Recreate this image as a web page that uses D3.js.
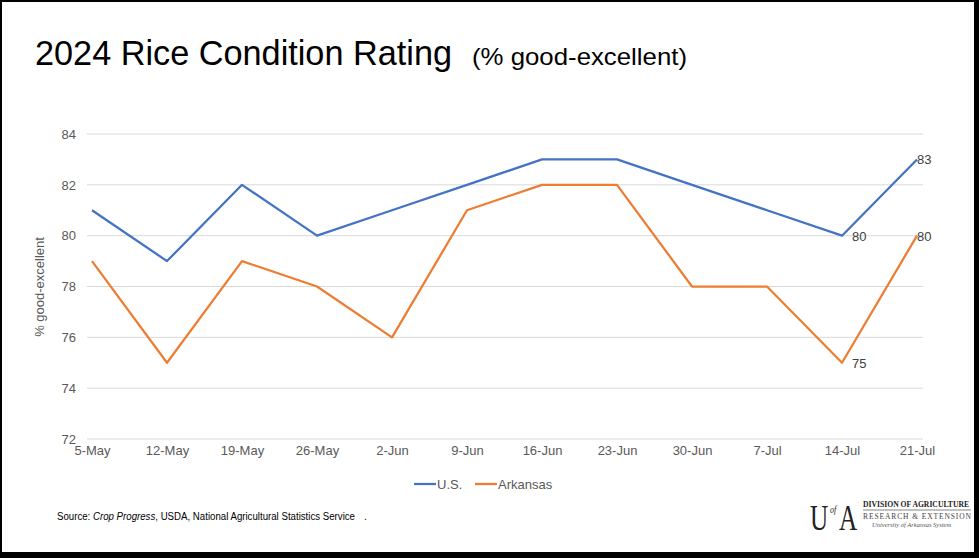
<!DOCTYPE html>
<html>
<head>
<meta charset="utf-8">
<script src="https://cdn.jsdelivr.net/npm/d3@7"></script>
<style>
  html, body { margin: 0; padding: 0; background: #fff; }
  svg { display: block; font-family: "Liberation Sans", Arial, sans-serif; }
</style>
</head>
<body>
<svg id="chart" width="979" height="558"></svg>
<script>
const categories = ["5-May","12-May","19-May","26-May","2-Jun","9-Jun","16-Jun","23-Jun","30-Jun","7-Jul","14-Jul","21-Jul"];
const usValues = [81,79,82,80,81,82,83,83,82,81,80,83];
const arkansasValues = [79,75,79,78,76,81,82,82,78,78,75,80];
const yTicks = [72,74,76,78,80,82,84];
const seriesNames = ["U.S.","Arkansas"];
const labelIndices = [10,11];

const svg = d3.select("#chart");
const W = 979, H = 558;
const SANS = "Liberation Sans, Arial, sans-serif";
const SERIF = "Liberation Serif, DejaVu Serif, serif";

// frame
svg.append("rect").attr("x",0).attr("y",0).attr("width",W).attr("height",H).attr("fill","#000");
svg.append("rect").attr("x",2).attr("y",2).attr("width",W-7).attr("height",H-8).attr("fill","#fff");

const x = d3.scalePoint().domain(categories).range([92,917]);
const y = d3.scaleLinear().domain([72,84]).range([439,134]);

// title
const title = svg.append("text").attr("x",35).attr("y",65).attr("fill","#000").style("font-family",SANS);
title.append("tspan").style("font-size","35px").attr("textLength",417).attr("lengthAdjust","spacingAndGlyphs").text("2024 Rice Condition Rating");
title.append("tspan").attr("x",472).style("font-size","24px").attr("textLength",215).attr("lengthAdjust","spacingAndGlyphs").text("(% good-excellent)");

// gridlines
svg.append("g").selectAll("line").data(yTicks).join("line")
  .attr("x1",x.range()[0]-5).attr("x2",x.range()[1]+6)
  .attr("y1",d=>y(d)).attr("y2",d=>y(d))
  .attr("stroke","#d9d9d9").attr("stroke-width",1);

// y axis
const yAxis = svg.append("g").attr("transform","translate(76,0)")
  .call(d3.axisLeft(y).tickValues(yTicks).tickSize(0).tickPadding(0));
yAxis.select(".domain").remove();
yAxis.selectAll("text").style("font-size","13px").attr("fill","#595959").style("font-family",SANS);

// x axis
const xAxis = svg.append("g").attr("transform","translate(0,446)")
  .call(d3.axisBottom(x).tickSize(0).tickPadding(0));
xAxis.select(".domain").remove();
xAxis.selectAll("text").style("font-size","13px").attr("fill","#595959").style("font-family",SANS);

// y title
svg.append("text").attr("transform","translate(44,287) rotate(-90)")
  .attr("text-anchor","middle").style("font-size","13px").attr("fill","#595959").style("font-family",SANS)
  .text("% good-excellent");

const colors = ["#4472c4","#ed7d31"];
const series = [usValues, arkansasValues];
const line = d3.line().x((d,i)=>x(categories[i])).y(d=>y(d));

series.forEach((vals,si)=>{
  svg.append("path").datum(vals).attr("d",line)
    .attr("fill","none").attr("stroke",colors[si]).attr("stroke-width",2.25)
    .attr("stroke-linejoin","round");
  svg.append("g").selectAll("text").data(labelIndices).join("text")
    .attr("x",i=>x(categories[i])+ (i===categories.length-1 ? 0 : 10))
    .attr("y",i=>y(vals[i])+5)
    .style("font-size","13px").style("font-family",SANS).attr("fill","#404040")
    .text(i=>vals[i]);
});

// legend
const legendItems = [{x:414,w:22},{x:475,w:22}];
seriesNames.forEach((n,i)=>{
  const g = svg.append("g");
  g.append("line").attr("x1",legendItems[i].x).attr("x2",legendItems[i].x+legendItems[i].w)
    .attr("y1",484).attr("y2",484).attr("stroke",colors[i]).attr("stroke-width",2.25);
  g.append("text").attr("x",legendItems[i].x+legendItems[i].w+1).attr("y",489)
    .style("font-size","13px").style("font-family",SANS).attr("fill","#595959").text(n);
});

// source
const src = svg.append("text").attr("x",57).attr("y",520).style("font-size","10px").style("font-family",SANS)
  .attr("fill","#000").attr("textLength",298).attr("lengthAdjust","spacingAndGlyphs");
src.append("tspan").text("Source: ");
src.append("tspan").style("font-style","italic").text("Crop Progress");
src.append("tspan").text(", USDA, National Agricultural Statistics Service");
svg.append("text").attr("x",364).attr("y",520).style("font-size","10px").style("font-family",SANS).attr("fill","#000").text(".");

// logo
const logo = svg.append("g").attr("fill","#222");
logo.append("text").attr("transform","translate(810,530) scale(0.84,1.2)").style("font-size","30px").style("font-family",SERIF).text("U");
logo.append("text").attr("transform","translate(830,513) scale(0.8,1)").style("font-size","10px").style("font-style","italic").style("font-family",SERIF).text("of");
logo.append("text").attr("transform","translate(839,530) scale(0.84,1.2)").style("font-size","30px").style("font-family",SERIF).text("A");
logo.append("text").attr("transform","translate(863,507) scale(0.9,1)").style("font-size","8.5px").style("font-weight","bold")
  .style("font-family",SERIF).text("DIVISION OF AGRICULTURE");
logo.append("line").attr("x1",863).attr("x2",971).attr("y1",510).attr("y2",510).attr("stroke","#666").attr("stroke-width",0.8);
logo.append("text").attr("transform","translate(863,519)").style("font-size","7.5px").style("letter-spacing","0.9px")
  .style("font-family",SERIF).attr("fill","#444").text("RESEARCH & EXTENSION");
logo.append("text").attr("x",872).attr("y",527).style("font-size","6.5px").style("font-style","italic")
  .style("font-family",SERIF).attr("fill","#555").text("University of Arkansas System");
</script>
</body>
</html>
